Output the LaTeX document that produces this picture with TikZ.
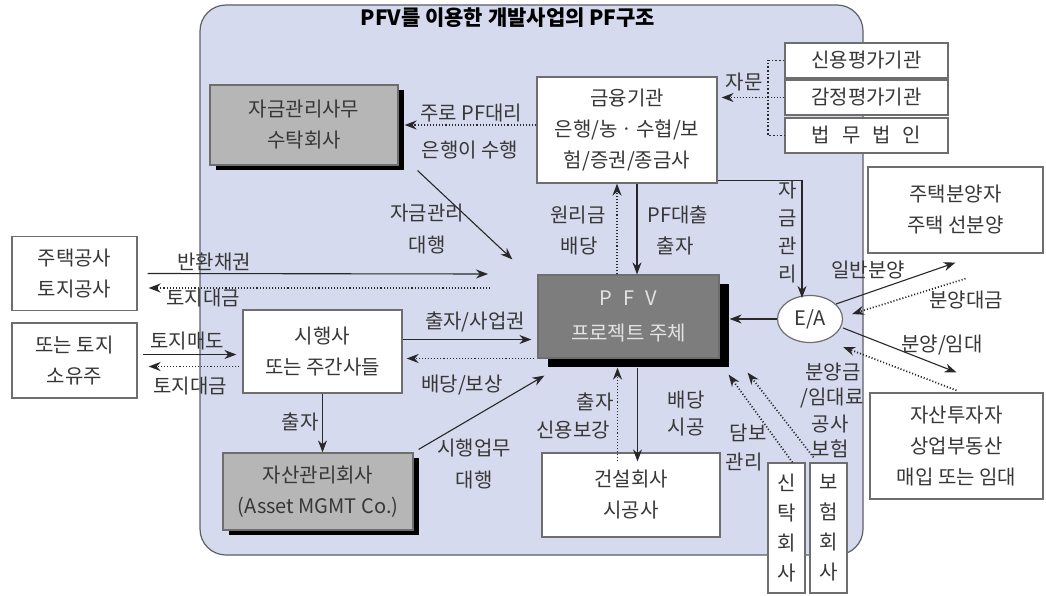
\documentclass[tikz,border=0pt]{standalone}
\usepackage{fontspec}
\setmainfont{Noto Sans CJK KR}
\usetikzlibrary{arrows.meta,shadows,shapes.geometric,calc}
\definecolor{bgc}{RGB}{214,218,238}
\definecolor{bgline}{RGB}{95,95,105}
\definecolor{boxline}{RGB}{110,110,110}
\definecolor{gray1}{RGB}{182,182,182}
\definecolor{pfvc}{RGB}{125,125,125}
\definecolor{txt}{RGB}{55,55,55}
\definecolor{lin}{RGB}{40,40,40}
\tikzset{
  base/.style={font=\fontsize{20}{31}\selectfont, text=txt},
  box/.style={base, draw=boxline, line width=1.2pt, fill=white, align=center, inner sep=0pt},
  gbox/.style={box, fill=gray1, drop shadow={shadow xshift=6pt, shadow yshift=-5pt, opacity=1, fill=black}},
  arr/.style={draw=lin, line width=1.1pt, -{Stealth[length=12pt,width=9pt]}},
  darr/.style={arr, dotted, line width=1.7pt},
  dline/.style={draw=lin, dotted, line width=1.7pt},
  lab/.style={base, inner sep=0pt, align=center},
}
\begin{document}
\begin{tikzpicture}[x=1pt,y=-1pt]
\useasboundingbox (0,0) rectangle (1046,596);
% background panel
\fill[white] (0,0) rectangle (1046,596);
\draw[fill=bgc, draw=bgline, line width=1.2pt, rounded corners=26pt] (200,5) rectangle (863,555);
\node[lab, font=\fontsize{21}{24}\selectfont\bfseries, text=black] (title) at (508,18) {PFV를 이용한 개발사업의 PF구조};

% nodes
\node[gbox, minimum width=188, minimum height=80] (jm) at (304,125) {자금관리사무\\수탁회사};
\node[box, minimum width=180, minimum height=106] (fin) at (627,130) {금융기관\\은행/농ㆍ수협/보\\험/증권/종금사};
\node[box, minimum width=163, minimum height=35] (cr1) at (866.5,60.5) {신용평가기관};
\node[box, minimum width=163, minimum height=35] (cr2) at (866.5,97.5) {감정평가기관};
\node[box, minimum width=163, minimum height=35] (law) at (866.5,135.5) {법\hspace{0.6em}무\hspace{0.6em}법\hspace{0.6em}인};
\node[box, fill=pfvc, text={rgb,255:red,228;green,228;blue,228}, minimum width=181, minimum height=83,
      drop shadow={shadow xshift=10pt, shadow yshift=-9pt, opacity=1, fill=black}] (pfv) at (628.5,316.5)
      {P\hspace{0.55em}F\hspace{0.55em}V\\[4pt]프로젝트 주체};
\node[box, ellipse, minimum width=65, minimum height=47] (ea) at (810,319) {E/A};
\node[box, minimum width=175, minimum height=86] (house) at (955.5,210) {주택분양자\\주택 선분양};
\node[box, minimum width=173, minimum height=106] (inv) at (956.5,446) {자산투자자\\상업부동산\\매입 또는 임대};
\node[box, minimum width=125, minimum height=74] (jt) at (74.5,273.5) {주택공사\\토지공사};
\node[box, minimum width=125, minimum height=75] (land) at (74.5,360.5) {또는 토지\\소유주};
\node[box, minimum width=159, minimum height=83] (sh) at (322.5,351.5) {시행사\\또는 주간사들};
\node[gbox, minimum width=190, minimum height=77] (am) at (318,491.5) {자산관리회사\\(Asset MGMT Co.)};
\node[box, minimum width=178, minimum height=84] (con) at (631,495) {건설회사\\시공사};
\node[box, font=\fontsize{20}{30}\selectfont, minimum width=37, minimum height=130] (trust) at (786.5,528) {신\\탁\\회\\사};
\node[box, font=\fontsize{20}{30}\selectfont, minimum width=37, minimum height=130] (ins) at (828.5,528) {보\\험\\회\\사};

% advisory bracket
\coordinate (brk) at (768,98);
\draw[dline] (cr1.west) -| (brk |- law.west) -- (law.west);
\draw[darr] (cr2.west) -- ([xshift=4pt]fin.east |- cr2.west);
\node[lab] (l1) at (744,82) {자문};

% fin -> jm
\draw[darr] (fin.west |- jm.east) -- ([xshift=6pt]jm.east);
\node[lab] (l2) at (471,113) {주로 PF대리};
\node[lab] (l3) at (470,150) {은행이 수행};

% jm -> pfv
\draw[arr] ([xshift=19pt,yshift=-5pt]jm.south east) -- ([xshift=-25pt,yshift=15pt]pfv.north west);
\node[lab] (l4) at (427,213) {자금관리};
\node[lab] (l5) at (427,245) {대행};

% fin <-> pfv
\draw[arr] ([xshift=10pt]fin.south) -- ([xshift=10pt]fin.south |- pfv.north);
\draw[darr] ([xshift=-10pt]fin.south |- pfv.north) -- ([xshift=-10pt]fin.south);
\node[lab] (l6) at (578,215) {원리금};
\node[lab] (l7) at (579,246) {배당};
\node[lab] (l8) at (678,215) {PF대출};
\node[lab] (l9) at (675,246) {출자};

% fin -> E/A
\draw[arr] ([yshift=3pt]fin.south east) -| ([xshift=-8pt,yshift=-3pt]ea.north);
\node[lab, font=\fontsize{20}{28}\selectfont] (l10) at (788,232) {자\\금\\관\\리};

% E/A -> pfv
\draw[arr] (ea.west) -- ([xshift=10pt]pfv.east |- ea.west);

% E/A <-> house / investors
\draw[arr] (ea.30) -- ([yshift=-9pt]house.south);
\node[lab] (l11) at (868,270) {일반분양};
\draw[darr] ([xshift=10pt,yshift=-25pt]house.south) -- ([xshift=9pt,yshift=5pt]ea.east);
\node[lab] (l12) at (966,300) {분양대금};
\draw[arr] ([yshift=-9pt]ea.east) -- ([yshift=20pt]inv.north);
\node[lab] (l13) at (942,345) {분양/임대};
\draw[darr] ([yshift=2pt]inv.north) -- ([yshift=-28pt]ea.east);
\node[lab] (l14) at (833,372) {분양금};
\node[lab] (l15) at (832,398) {/임대료};
\node[lab] (l16) at (830,424) {공사};
\node[lab] (l17) at (830,449) {보험};

% trust / insurance -> pfv
\draw[darr] ([xshift=6pt]trust.north) -- ([xshift=9pt,yshift=-16pt]pfv.south east);
\draw[darr] ([xshift=-15pt,yshift=5pt]ins.north) -- ([xshift=28pt,yshift=-14pt]pfv.south east);
\node[lab] (l18) at (748,433) {담보};
\node[lab] (l19) at (744,462) {관리};

% pfv <-> construction
\draw[arr] ([xshift=9pt,yshift=-9pt]pfv.south) -- ([xshift=9pt,yshift=-9pt]pfv.south |- con.north);
\draw[darr] ([xshift=-11pt,yshift=-9pt]pfv.south |- con.north) -- ([xshift=-11pt,yshift=-9pt]pfv.south);
\node[lab] (l20) at (595,402) {출자};
\node[lab] (l21) at (573,430) {신용보강};
\node[lab] (l22) at (686,400) {배당};
\node[lab] (l23) at (686,427) {시공};

% sh <-> pfv
\draw[arr] ([yshift=12pt]sh.east) -- ([yshift=12pt,xshift=-6pt]sh.east -| pfv.west);
\node[lab] (l24) at (475,322) {출자/사업권};
\draw[darr] ([yshift=-7pt,xshift=-3pt]pfv.west |- sh.east) -- ([yshift=-7pt,xshift=4pt]sh.east);
\node[lab] (l25) at (462,385) {배당/보상};

% left side
\coordinate (rbEnd) at (488,274);
\draw[arr] ([xshift=10pt]jt.east) -- (rbEnd);
\node[lab] (l26) at (214,262) {반환채권};
\coordinate (tdStart) at (490,288);
\draw[darr] (tdStart) -- ([xshift=11pt]jt.east |- tdStart);
\node[lab] (l27) at (203,298) {토지대금};
\draw[arr] ([xshift=5pt,yshift=6pt]land.east) -- ([xshift=-6pt,yshift=6pt]sh.west |- land.east);
\node[lab] (l28) at (187,341) {토지매도};
\draw[darr] ([xshift=-3pt,yshift=-6pt]sh.west |- land.east) -- ([xshift=11pt,yshift=-6pt]land.east);
\node[lab] (l29) at (190,386) {토지대금};

% sh -> am
\draw[arr] (sh.south) -- (am.north -| sh.south);
\node[lab] (l30) at (300,422) {출자};

% am -> pfv
\draw[arr] ([xshift=5pt,yshift=3pt]am.north east) -- ([xshift=7pt,yshift=-17pt]pfv.south west);
\node[lab] (l31) at (474,448) {시행업무};
\node[lab] (l32) at (474,480) {대행};
\end{tikzpicture}
\end{document}
